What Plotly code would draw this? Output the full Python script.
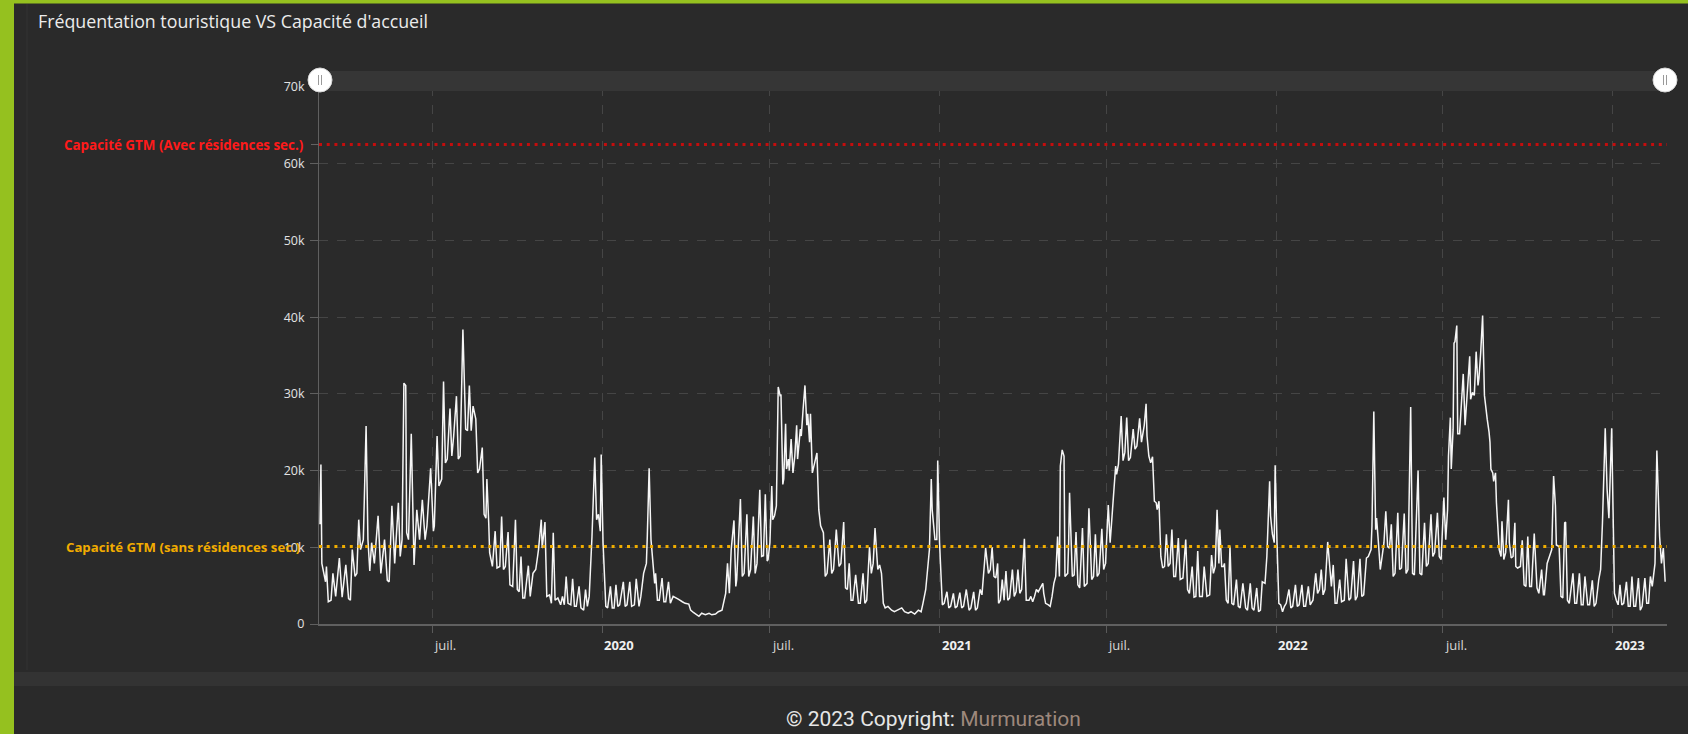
import pandas as pd
import plotly.graph_objects as go

W, H = 1688, 734
START_DATE = "2019-03-01"

# ---- Daily visitors (thousands), day offsets counted from START_DATE ----
days_1 = [0, 1, 2, 6, 7, 9, 12, 14, 17, 21, 24, 28, 31, 33, 35, 38, 40, 42, 44, 47, 50, 52, 54, 56, 59, 63, 66, 70, 73, 75,
          78, 81, 85, 87, 89, 91, 93, 94, 96, 99, 102, 105, 108, 111, 114, 116, 120, 123, 124, 127, 129, 132, 134, 136, 138,
          141, 143, 145, 148, 150, 152, 155, 158, 160, 162, 164, 166, 169, 171, 173, 176, 178, 180, 181, 183, 184, 187, 190,
          192, 195, 197, 199, 201, 204, 206, 209, 212, 214, 216, 218, 220, 222, 226, 228, 231, 234, 236, 237, 240]
vals_1 = [13.0, 20.8, 7.9, 5.5, 7.5, 2.9, 3.1, 6.6, 3.6, 8.6, 3.5, 7.7, 3.3, 3.1, 9.7, 6.2, 6.6, 13.6, 9.7, 11.0, 25.8, 11.0,
          6.9, 10.6, 7.9, 14.1, 6.6, 11.0, 5.7, 5.5, 15.4, 7.9, 15.8, 8.8, 11.0, 31.4, 31.1, 11.9, 11.0, 24.8, 7.7, 14.9, 11.0,
          16.2, 11.0, 12.8, 20.3, 12.1, 12.8, 24.5, 18.0, 18.9, 31.6, 21.0, 21.5, 28.1, 21.9, 24.5, 29.7, 21.5, 21.9, 38.4,
          25.4, 25.2, 31.1, 25.2, 28.4, 26.7, 19.7, 20.2, 23.0, 14.3, 13.8, 18.9, 13.2, 9.3, 7.5, 12.1, 7.3, 7.5, 14.0, 7.1,
          7.5, 12.0, 5.1, 4.9, 13.6, 4.5, 4.2, 8.8, 3.4, 3.4, 7.6, 3.6, 6.6, 7.1, 8.8, 9.7, 13.6]

days_2 = [241, 244, 246, 249, 251, 253, 255, 258, 261, 263, 265, 267, 269, 272, 274, 276, 278, 281, 283, 286, 288, 290, 292,
          295, 298, 300, 302, 304, 305, 307, 309, 310, 312, 315, 317, 319, 321, 323, 325, 329, 331, 333, 336, 338, 341, 343,
          346, 348, 351, 354, 355, 357, 359, 362, 363, 364, 366, 368, 371, 373, 375, 378, 380, 383, 385, 389, 393, 396, 400,
          402, 405, 408, 411, 414, 418, 422, 425, 429, 432, 436, 438, 440, 442, 444, 446, 449, 451, 452, 456, 458, 460, 463,
          465, 467, 470, 472, 474, 477, 479, 481, 483, 485]
vals_2 = [9.9, 13.3, 3.6, 3.8, 2.7, 11.9, 3.1, 3.4, 2.5, 3.6, 2.5, 6.2, 2.7, 2.5, 5.9, 2.3, 2.3, 4.9, 2.1, 1.8, 4.5, 2.3, 3.6,
          11.4, 21.7, 13.6, 14.3, 12.1, 22.1, 10.6, 5.3, 2.3, 2.1, 4.9, 2.1, 2.1, 5.1, 2.3, 2.5, 5.5, 2.3, 2.5, 5.5, 2.3, 2.5,
          5.9, 2.3, 3.6, 6.6, 7.9, 11.4, 20.3, 11.0, 6.2, 5.3, 6.6, 3.1, 3.1, 6.0, 2.9, 2.9, 5.5, 2.7, 3.6, 3.5, 3.2, 2.9, 2.7,
          2.6, 1.8, 1.5, 1.2, 1.0, 1.4, 1.2, 1.4, 1.2, 1.3, 1.6, 1.8, 3.1, 4.0, 7.9, 4.0, 9.7, 13.5, 4.9, 5.8, 16.3, 6.2, 6.6,
          14.3, 6.2, 7.1, 14.0, 6.6, 7.9, 17.5, 8.8, 8.9, 16.9, 8.2]

days_3 = [486, 488, 490, 491, 493, 495, 497, 499, 500, 502, 503, 505, 506, 508, 509, 511, 513, 515, 517, 518, 521, 522, 524,
          526, 528, 529, 531, 532, 534, 537, 539, 541, 543, 546, 548, 550, 553, 555, 557, 560, 563, 565, 568, 570, 572, 574,
          576, 578, 581, 584, 586, 589, 591, 593, 596, 598, 600, 602, 605, 607, 609, 611, 613, 616, 620, 623, 627, 631, 634,
          638, 641, 645, 649, 652, 654, 657, 659, 661, 663, 664, 667, 669, 670, 672, 675, 677, 680, 682, 684, 687, 689, 691,
          694, 696, 698, 701, 704, 706, 709, 711, 713, 716, 718, 720, 722, 725, 727, 729, 731]
vals_3 = [8.4, 10.6, 18.0, 13.6, 14.1, 15.4, 30.9, 29.8, 29.9, 18.2, 18.9, 26.1, 20.2, 21.5, 20.0, 24.1, 19.7, 21.9, 25.9,
          21.5, 25.4, 24.5, 28.0, 31.1, 25.9, 27.4, 23.7, 27.4, 19.7, 21.3, 22.3, 14.9, 12.8, 11.9, 6.2, 6.6, 11.0, 6.6, 7.1,
          12.3, 7.5, 7.9, 13.3, 4.7, 4.5, 7.9, 3.1, 3.1, 6.4, 2.7, 2.7, 6.6, 2.7, 3.1, 10.0, 6.6, 7.9, 12.5, 7.1, 7.7, 6.6,
          2.7, 2.1, 2.3, 1.8, 1.6, 1.8, 2.1, 1.6, 1.4, 1.6, 1.3, 1.8, 1.6, 2.7, 4.5, 7.1, 9.7, 18.9, 14.9, 11.0, 11.0, 21.3,
          10.6, 2.5, 2.7, 4.2, 2.1, 2.3, 4.0, 2.1, 2.3, 4.1, 2.1, 2.3, 4.5, 1.8, 2.1, 4.2, 1.8, 2.1, 4.5, 3.8, 7.5, 9.9, 6.6,
          7.1, 10.0, 6.2]

days_4 = [733, 735, 736, 738, 740, 742, 744, 746, 748, 751, 753, 755, 757, 759, 761, 764, 766, 769, 771, 773, 775, 777, 779,
          782, 784, 785, 787, 790, 792, 794, 796, 798, 800, 802, 803, 805, 807, 808, 811, 812, 813, 816, 818, 820, 822, 824,
          827, 829, 832, 834, 837, 839, 841, 843, 845, 848, 850, 852, 855, 857, 859, 861, 863, 864, 866, 869, 871, 873, 875,
          877, 879, 882, 884, 886, 889, 891, 894, 896, 897, 899, 901, 903, 905, 907, 908, 910, 912, 914, 916, 918, 920, 922,
          924, 926, 928, 931, 933, 936, 939, 941, 943, 946, 948, 950, 952, 954, 957, 959, 962, 965, 967, 969, 971, 973, 975]
vals_4 = [6.0, 7.9, 2.7, 3.1, 5.8, 3.1, 6.9, 3.1, 3.4, 7.1, 3.6, 4.2, 7.1, 4.0, 4.5, 11.1, 3.1, 3.1, 3.6, 2.9, 3.6, 4.5, 4.2,
          4.9, 5.3, 4.0, 2.7, 2.5, 2.3, 3.6, 5.3, 6.2, 11.4, 6.2, 20.6, 22.7, 21.9, 6.2, 6.6, 10.6, 17.1, 6.2, 6.4, 12.0, 5.1,
          4.7, 12.5, 4.9, 5.3, 15.1, 5.8, 6.2, 11.7, 6.2, 6.6, 12.4, 7.1, 7.9, 15.5, 10.6, 13.5, 17.3, 20.6, 19.5, 20.8, 27.1,
          21.3, 22.4, 26.9, 21.3, 21.7, 25.4, 22.8, 23.2, 26.8, 23.7, 25.9, 28.7, 24.5, 21.9, 21.0, 21.8, 16.0, 15.8, 14.9,
          16.0, 8.8, 7.3, 7.5, 11.7, 7.5, 7.9, 12.3, 6.2, 6.2, 11.2, 5.8, 6.0, 11.0, 4.5, 4.0, 7.5, 3.5, 3.6, 9.5, 3.6, 3.6,
          7.5, 3.6, 3.8, 9.0, 6.6, 7.5, 14.9, 7.9]

days_5 = [976, 978, 980, 981, 983, 985, 987, 989, 991, 994, 996, 998, 1001, 1004, 1006, 1009, 1011, 1013, 1016, 1018, 1020,
          1022, 1025, 1027, 1030, 1031, 1033, 1035, 1036, 1038, 1040, 1042, 1044, 1046, 1048, 1051, 1053, 1055, 1058, 1060,
          1062, 1065, 1067, 1069, 1072, 1074, 1077, 1080, 1082, 1084, 1086, 1088, 1090, 1093, 1095, 1097, 1099, 1101, 1103,
          1106, 1108, 1111, 1113, 1116, 1118, 1121, 1123, 1125, 1128, 1130, 1132, 1135, 1137, 1140, 1141, 1143, 1145, 1146,
          1148, 1150, 1152, 1154, 1156, 1158, 1160, 1162, 1164, 1166, 1169, 1171, 1173, 1176, 1178, 1180, 1183, 1185, 1187,
          1191, 1193, 1195, 1198, 1200, 1202, 1205, 1207, 1209, 1212, 1214, 1216, 1219, 1221]
vals_5 = [12.3, 7.5, 7.5, 7.9, 3.1, 2.7, 10.1, 2.7, 2.5, 5.8, 2.3, 2.1, 5.3, 2.1, 1.8, 5.3, 2.1, 1.8, 4.7, 1.6, 1.8, 5.5,
          5.3, 8.8, 18.6, 14.1, 11.7, 10.6, 20.7, 10.6, 2.7, 2.5, 1.6, 2.3, 2.7, 4.5, 2.1, 2.3, 5.1, 2.3, 2.5, 5.1, 2.3, 2.3,
          4.9, 2.5, 3.1, 6.6, 4.0, 4.5, 7.1, 3.8, 4.5, 10.7, 7.5, 4.9, 7.7, 2.7, 2.7, 5.8, 2.9, 3.1, 8.5, 3.1, 3.4, 8.2, 3.1,
          3.6, 8.5, 3.6, 3.8, 8.6, 8.8, 9.7, 12.8, 27.7, 12.3, 13.8, 10.6, 7.1, 8.8, 10.6, 14.7, 10.1, 9.9, 13.0, 6.2, 6.6,
          14.5, 7.1, 7.3, 14.4, 6.6, 7.1, 28.3, 6.6, 6.4, 20.0, 6.6, 6.4, 13.2, 7.5, 7.9, 14.3, 8.8, 9.3, 14.5, 8.8, 8.4,
          16.5, 11.0]

days_6 = [1223, 1224, 1226, 1227, 1229, 1230, 1231, 1233, 1234, 1236, 1240, 1242, 1243, 1244, 1247, 1248, 1250, 1252, 1254,
          1256, 1257, 1259, 1261, 1263, 1264, 1266, 1268, 1269, 1270, 1272, 1273, 1275, 1276, 1278, 1279, 1281, 1282, 1284,
          1286, 1289, 1290, 1292, 1294, 1296, 1297, 1299, 1302, 1304, 1306, 1308, 1310, 1312, 1314, 1317, 1320, 1322, 1325,
          1327, 1328, 1331, 1333, 1336, 1338, 1340, 1341, 1344, 1346, 1348, 1350, 1351, 1353, 1355, 1359, 1361, 1363, 1366,
          1368, 1370, 1372, 1375, 1377, 1380, 1382, 1384, 1387, 1389, 1391, 1394, 1396, 1397, 1398, 1401, 1403, 1404, 1406,
          1408, 1410, 1412, 1414, 1417, 1419, 1421, 1423, 1425, 1427, 1430, 1432, 1434, 1437, 1439, 1441, 1443, 1445, 1448,
          1450, 1452, 1453, 1455, 1457, 1459]
vals_6 = [14.9, 21.9, 26.9, 20.2, 25.4, 36.6, 36.8, 38.9, 24.8, 24.8, 32.6, 25.9, 27.6, 29.3, 34.9, 29.3, 30.2, 29.8, 35.5,
          31.1, 32.0, 35.5, 40.2, 29.8, 28.5, 26.7, 25.0, 23.7, 20.2, 19.7, 18.6, 19.7, 15.8, 11.4, 9.7, 8.8, 13.4, 8.4, 9.3,
          16.2, 10.6, 8.6, 8.8, 13.2, 7.5, 7.3, 7.5, 10.9, 5.1, 4.9, 11.4, 4.9, 4.9, 11.8, 4.7, 4.0, 7.1, 3.8, 3.8, 7.9, 8.6,
          9.7, 19.3, 15.4, 10.3, 10.1, 3.6, 3.4, 13.2, 13.3, 3.1, 2.7, 6.6, 2.7, 2.7, 6.6, 2.5, 2.5, 6.2, 2.5, 2.5, 5.7, 2.3,
          2.7, 5.8, 7.1, 13.2, 25.5, 17.6, 15.8, 13.8, 25.5, 13.2, 4.0, 3.1, 2.5, 5.1, 2.5, 2.7, 5.5, 2.3, 2.3, 6.2, 2.3, 2.3,
          6.0, 1.8, 2.3, 6.0, 2.7, 2.7, 6.2, 4.9, 7.9, 22.6, 14.9, 11.4, 7.9, 9.9, 5.5]

CAPACITY_WITH_SECONDARY = 62.5     # thousands
CAPACITY_WITHOUT_SECONDARY = 10.1  # thousands
CAP_WITH_LABEL = "Capacité GTM (Avec résidences sec.)"
CAP_WITHOUT_LABEL = "Capacité GTM (sans résidences sec.)"

y_tick_vals = [0, 10, 20, 30, 40, 50, 60, 70]
y_tick_text = ["0", "10k", "20k", "30k", "40k", "50k", "60k", "70k"]
x_tick_dates = ["2019-07-01", "2020-01-01", "2020-07-01", "2021-01-01",
                "2021-07-01", "2022-01-01", "2022-07-01", "2023-01-01"]
x_tick_text = ["juil.", "2020", "juil.", "2021", "juil.", "2022", "juil.", "2023"]
x_range = ["2019-02-27 22:00", "2023-03-01"]

TITLE = "Fréquentation touristique VS Capacité d'accueil"

days = days_1 + days_2 + days_3 + days_4 + days_5 + days_6
vals = vals_1 + vals_2 + vals_3 + vals_4 + vals_5 + vals_6
dates = pd.Timestamp(START_DATE) + pd.to_timedelta(days, unit="D")

# ---- layout geometry (pixels) ----
PL, PR, PT, PB = 319, 1667, 87, 624
PW, PH = PR - PL, PB - PT


def px_x(px):
    return (px - PL) / PW


def px_y(py):
    return (PB - py) / PH


BG = "#2a2a2a"
GREEN = "#95c11f"
FONT = "Open Sans"

fig = go.Figure()
fig.add_trace(go.Scatter(
    x=dates, y=vals, mode="lines",
    line=dict(color="#f6f6f6", width=1.5),
    hoverinfo="skip", showlegend=False,
))

shapes = []
# capacity lines
shapes.append(dict(type="line", xref="paper", yref="y", x0=0, x1=1,
                   y0=CAPACITY_WITH_SECONDARY, y1=CAPACITY_WITH_SECONDARY,
                   line=dict(color="#c40d0d", width=3, dash="3px,4.7px"), layer="above"))
shapes.append(dict(type="line", xref="paper", yref="y", x0=0, x1=1,
                   y0=CAPACITY_WITHOUT_SECONDARY, y1=CAPACITY_WITHOUT_SECONDARY,
                   line=dict(color="#f0ad00", width=3, dash="3px,4.7px"), layer="above"))
shapes.append(dict(type="line", xref="paper", yref="y", x0=px_x(311), x1=0,
                   y0=CAPACITY_WITH_SECONDARY, y1=CAPACITY_WITH_SECONDARY,
                   line=dict(color="#666666", width=1)))
# green frame
shapes.append(dict(type="rect", xref="paper", yref="paper", x0=px_x(0), x1=px_x(W),
                   y0=px_y(3.5), y1=px_y(0), fillcolor=GREEN, line=dict(width=0)))
shapes.append(dict(type="rect", xref="paper", yref="paper", x0=px_x(0), x1=px_x(14),
                   y0=px_y(H), y1=px_y(0), fillcolor=GREEN, line=dict(width=0)))
# panel left border
shapes.append(dict(type="line", xref="paper", yref="paper", x0=px_x(27), x1=px_x(27),
                   y0=px_y(670), y1=px_y(4), line=dict(color="#323232", width=1)))
# bottom band
shapes.append(dict(type="rect", xref="paper", yref="paper", x0=px_x(14), x1=px_x(W),
                   y0=px_y(686), y1=px_y(672), fillcolor="#333333", line=dict(width=0)))
# slider band
shapes.append(dict(type="rect", xref="paper", yref="paper", x0=0, x1=1,
                   y0=px_y(91), y1=px_y(71), fillcolor="#363636", line=dict(width=0), layer="above"))
# slider handles
for cx in (320, 1665):
    shapes.append(dict(type="circle", xref="paper", yref="paper",
                       x0=px_x(cx - 12), x1=px_x(cx + 12), y0=px_y(92), y1=px_y(68),
                       fillcolor="#ffffff", line=dict(color="#d8d8d8", width=1), layer="above"))
    for dx in (-1.5, 1.5):
        shapes.append(dict(type="line", xref="paper", yref="paper",
                           x0=px_x(cx + dx), x1=px_x(cx + dx), y0=px_y(85), y1=px_y(75),
                           line=dict(color="#9a9a9a", width=1), layer="above"))

annotations = []
annotations.append(dict(xref="paper", yref="y", x=0, y=CAPACITY_WITH_SECONDARY, xanchor="right",
                        yanchor="middle", xshift=-14, showarrow=False,
                        text="<b>" + CAP_WITH_LABEL + "</b>",
                        font=dict(family=FONT, size=13.4, color="#ff1a1a")))
annotations.append(dict(xref="paper", yref="y", x=0, y=CAPACITY_WITHOUT_SECONDARY, xanchor="right",
                        yanchor="middle", xshift=-17, showarrow=False,
                        text="<b>" + CAP_WITHOUT_LABEL + "</b>",
                        font=dict(family=FONT, size=13.2, color="#f2ac00")))
for d, t in zip(x_tick_dates, x_tick_text):
    is_year = t[0].isdigit()
    annotations.append(dict(xref="x", yref="paper", x=d, y=px_y(645), xanchor="left",
                            yanchor="middle", xshift=0, showarrow=False,
                            text=("<b>" + t + "</b>") if is_year else t,
                            font=dict(family=FONT, size=13,
                                      color="#f0f0f0" if is_year else "#d8d8d8")))
annotations.append(dict(xref="paper", yref="paper", x=px_x(933), y=px_y(719), xanchor="center",
                        yanchor="middle", showarrow=False,
                        text="© 2023 Copyright: <span style='color:#9d887c'>Murmuration</span>",
                        font=dict(family="Roboto", size=21, color="#e6e6e6")))

fig.update_layout(
    template="none",
    width=W, height=H, autosize=False,
    margin=dict(l=PL, r=W - PR, t=PT, b=H - PB, pad=0),
    paper_bgcolor=BG, plot_bgcolor=BG,
    hovermode=False, showlegend=False,
    title=dict(text=TITLE, x=38 / W, y=1 - 22 / H, xref="container", yref="container",
               xanchor="left", yanchor="middle",
               font=dict(family="Open Sans", size=17.8, color="#ececec")),
    shapes=shapes, annotations=annotations,
    xaxis=dict(type="date", range=x_range, tickvals=x_tick_dates, showticklabels=False,
               ticks="outside", ticklen=7, tickcolor="#5a5a5a", tickwidth=1,
               showgrid=True, gridcolor="#454545", griddash="dash", gridwidth=1,
               showline=True, linecolor="#606060", linewidth=2, zeroline=False,
               automargin=False, fixedrange=True),
    yaxis=dict(range=[0, 70], tickvals=y_tick_vals, ticktext=y_tick_text,
               ticks="outside", ticklen=8, tickcolor="#606060", tickwidth=1,
               ticklabelstandoff=3,
               tickfont=dict(family=FONT, size=12.5, color="#e2e2e2"),
               showgrid=True, gridcolor="#454545", griddash="dash", gridwidth=1,
               showline=True, linecolor="#606060", linewidth=1, zeroline=False,
               automargin=False, fixedrange=True),
)

fig.write_html(
    "out.html",
    config={"displayModeBar": False},
    post_script=("document.body.style.margin='0px';document.body.style.padding='0px';"
                 "document.body.style.overflow='hidden';document.body.style.background='#2a2a2a';"),
)
